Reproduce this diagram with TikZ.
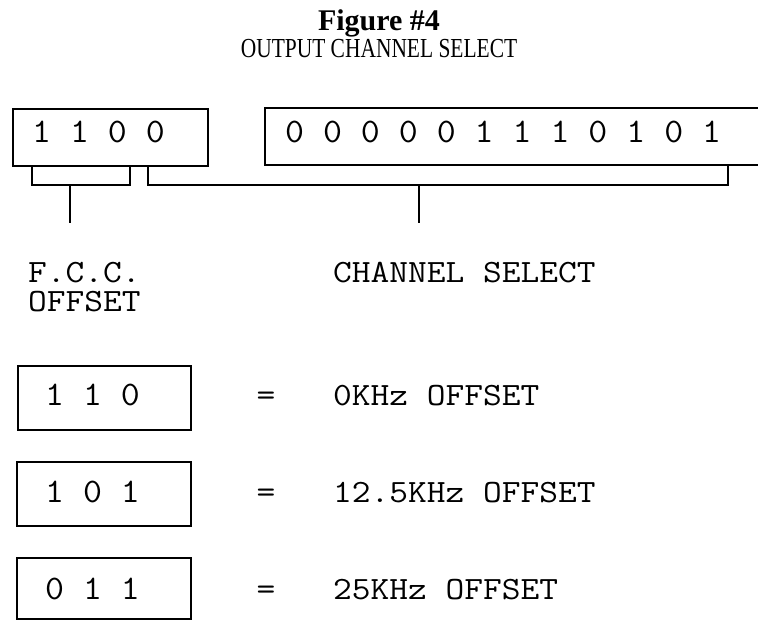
\documentclass[tikz,border=0pt]{standalone}
\usepackage{fontspec}
\usepackage{graphicx}
\setmainfont{Liberation Serif}
\newfontfamily\courA[FakeStretch=1.07]{lmmono12-regular.otf}
\newfontfamily\courB[FakeStretch=1.12]{lmmono12-regular.otf}
\begin{document}
\begin{tikzpicture}[x=1pt,y=-1pt,
  ln/.style={line width=2pt,line cap=butt,line join=miter},
  bx/.style={draw,line width=2pt,inner sep=0pt,anchor=north west},
  digs/.style={inner sep=0pt,anchor=base west,font=\courA\fontsize{34.4}{34.4}\selectfont},
  mono/.style={inner sep=0pt,anchor=base west,font=\courB\fontsize{32.5}{32.5}\selectfont},
  eqs/.style={inner sep=0pt,anchor=base,font=\courB\fontsize{32.5}{32.5}\selectfont}]
\useasboundingbox (0,0) rectangle (758,620);
% title
\node[inner sep=0pt,anchor=base] (t1) at (379,31) {\fontsize{30}{30}\selectfont\bfseries Figure \#4};
\node[inner sep=0pt,anchor=base] (t2) at (379,58) {\fontsize{27.5}{27.5}\selectfont\scalebox{0.78}[1]{OUTPUT CHANNEL SELECT}};
% top boxes
\node[bx,minimum width=195pt,minimum height=57pt] (b1) at (12,108) {};
\draw[ln] (758,108) -- (265,108) -- (265,165) -- (758,165);
\node[digs] (d1) at (32,143) {1 1 0 0};
\node[digs] (d2) at (285,143) {0 0 0 0 0 1 1 1 0 1 0 1};
% brackets
\coordinate (l1) at (32,166); \coordinate (l2) at (32,185);
\coordinate (l3) at (130,185); \coordinate (l4) at (130,166);
\coordinate (ls) at (70,185); \coordinate (le) at (70,223);
\coordinate (r1) at (148,166); \coordinate (r2) at (148,185);
\coordinate (r3) at (728,185); \coordinate (r4) at (728,166);
\coordinate (rs) at (419,185); \coordinate (re) at (419,223);
\draw[ln] (l1) -- (l2) -- (l3) -- (l4);
\draw[ln] (ls) -- (le);
\draw[ln] (r1) -- (r2) -- (r3) -- (r4);
\draw[ln] (rs) -- (re);
% labels
\node[mono] (f1) at (28,283) {F.C.C.};
\node[mono] (f2) at (28,312) {OFFSET};
\node[mono] (cs) at (333,283) {CHANNEL SELECT};
% offset table
\node[bx,minimum width=173pt,minimum height=64pt] (ba) at (17,365) {};
\node[bx,minimum width=174pt,minimum height=64pt] (bb) at (16,461) {};
\node[bx,minimum width=174pt,minimum height=61pt] (bc) at (16,557) {};
\node[digs] (da) at (45,406) {1 1 0};
\node[digs] (db) at (45,502) {1 0 1};
\node[digs] (dc) at (45,599) {0 1 1};
\node[eqs] (ea) at (266,406) {=};
\node[eqs] (eb) at (266,502) {=};
\node[eqs] (ec) at (266,599) {=};
\node[mono] (oa) at (333,406) {0KHz OFFSET};
\node[mono] (ob) at (333,502) {12.5KHz OFFSET};
\node[mono] (oc) at (333,599) {25KHz OFFSET};
\end{tikzpicture}
\end{document}
